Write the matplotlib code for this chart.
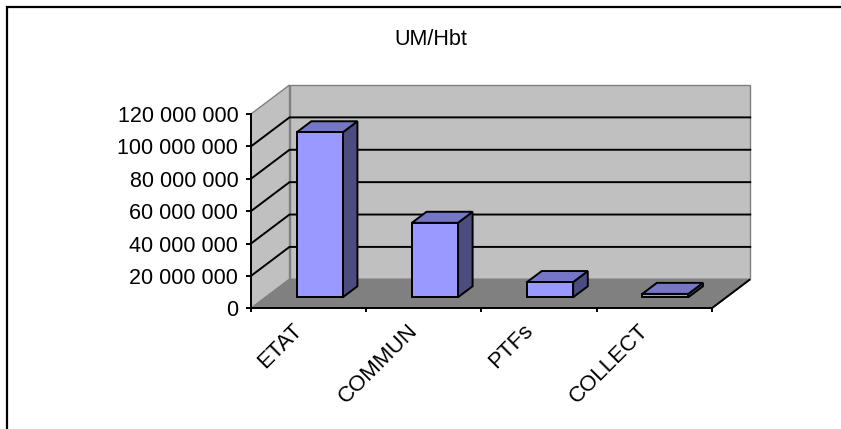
import matplotlib
matplotlib.use("Agg")
import matplotlib.pyplot as plt
from matplotlib.patches import Polygon, Rectangle
from matplotlib.transforms import ScaledTranslation

# ---- data ----
categories = ["ETAT", "COMMUN", "PTFs", "COLLECT"]
values = [101.9e6, 46.0e6, 9.4e6, 2.1e6]
yticks = [0, 20e6, 40e6, 60e6, 80e6, 100e6, 120e6]
ytick_labels = ["0", "20 000 000", "40 000 000", "60 000 000",
                "80 000 000", "100 000 000", "120 000 000"]
title = "UM/Hbt"

# ---- style ----
plt.rcParams['font.family'] = ['Liberation Sans', 'DejaVu Sans']
FS = 15.5
W, H = 841, 429
fig = plt.figure(figsize=(W / 100, H / 100), dpi=100)
fig.patch.set_facecolor("white")

# front plane of axes in pixels
x0p, x1p = 251.0, 711.7
y0p, y1p = 308.3, 114.0
ax = fig.add_axes([x0p / W, 1 - y0p / H, (x1p - x0p) / W, (y0p - y1p) / H])
ax.set_facecolor("none")
n = len(categories)
ymax = yticks[-1]
ax.set_xlim(0, n)
ax.set_ylim(0, ymax)

# depth offset expressed in data units (oblique projection)
px_per_cat = (x1p - x0p) / n
px_per_val = (y0p - y1p) / ymax
DX = 38.5 / px_per_cat
DY = 29.0 / px_per_val


def P(x, v, z):
    return (x + z * DX, v + z * DY)


wall = "#C0C0C0"
floorc = "#808080"
border = "#808080"
blk_lw = 1.4

# side wall
ax.add_patch(Polygon([P(0, 0, 0), P(0, ymax, 0), P(0, ymax, 1), P(0, 0, 1)],
                     closed=True, fc=wall, ec=border, lw=1.0, clip_on=False, zorder=1))
# back wall
ax.add_patch(Polygon([P(0, 0, 1), P(n, 0, 1), P(n, ymax, 1), P(0, ymax, 1)],
                     closed=True, fc=wall, ec=border, lw=1.0, clip_on=False, zorder=1))
# floor
ax.add_patch(Polygon([P(0, 0, 0), P(n, 0, 0), P(n, 0, 1), P(0, 0, 1)],
                     closed=True, fc=floorc, ec=border, lw=1.0, clip_on=False, zorder=1))
# right floor edge (black)
ax.plot(*zip(P(n, 0, 0), P(n, 0, 1)), color="black", lw=blk_lw, clip_on=False, zorder=2,
        solid_capstyle="butt")

# gridlines
for v in yticks[1:-1]:
    xs, ys = zip(P(0, v, 0), P(0, v, 1), P(n, v, 1))
    ax.plot(xs, ys, color="black", lw=blk_lw, clip_on=False, zorder=2)

# bars
front_col = "#9999FF"
top_col = "#7676C6"
side_col = "#4C4C80"
z0, z1 = 0.38, 0.76
b0, b1 = 0.27, 0.67
for i, val in enumerate(values):
    xa, xb = i + b0, i + b1
    ax.add_patch(Polygon([P(xb, 0, z0), P(xb, val, z0), P(xb, val, z1), P(xb, 0, z1)],
                         closed=True, fc=side_col, ec="black", lw=blk_lw, clip_on=False,
                         zorder=3, joinstyle="miter"))
    ax.add_patch(Polygon([P(xa, val, z0), P(xb, val, z0), P(xb, val, z1), P(xa, val, z1)],
                         closed=True, fc=top_col, ec="black", lw=blk_lw, clip_on=False,
                         zorder=3, joinstyle="miter"))
    ax.add_patch(Polygon([P(xa, 0, z0), P(xb, 0, z0), P(xb, val, z0), P(xa, val, z0)],
                         closed=True, fc=front_col, ec="black", lw=blk_lw, clip_on=False,
                         zorder=4, joinstyle="miter"))

# spines / axes
for s in ["top", "right"]:
    ax.spines[s].set_visible(False)
for s in ["left", "bottom"]:
    ax.spines[s].set_linewidth(blk_lw)
    ax.spines[s].set_zorder(5)
ax.set_yticks(yticks, ytick_labels, fontsize=FS)
ax.tick_params(axis="y", direction="out", length=3.6, width=blk_lw, pad=5.5)
ax.set_xticks(range(n + 1), [""] * (n + 1))
ax.tick_params(axis="x", direction="out", length=3.2, width=blk_lw)

# category labels, rotated
off = ScaledTranslation(-9.0 / 100, -19.0 / 100, fig.dpi_scale_trans)
for i, lab in enumerate(categories):
    ax.text(i + 0.5, 0, lab, fontsize=FS + 0.5, rotation=45, rotation_mode="anchor",
            ha="right", va="center", transform=ax.transData + off, clip_on=False)

# title
fig.text(430.5 / W, 1 - 45.0 / H, title, fontsize=FS, ha="center", va="baseline")

# outer border (extends beyond right/bottom edges)
fig.add_artist(Rectangle((7.3 / W, -0.05), 1.0, 1 - 7.3 / H + 0.05,
                         transform=fig.transFigure, fill=False, ec="black", lw=1.6))

fig.savefig("out.png", dpi=100)
